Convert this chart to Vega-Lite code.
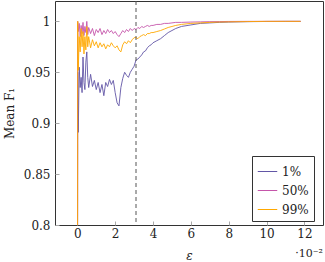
{
  "$schema": "https://vega.github.io/schema/vega-lite/v6.json",
  "width": 268,
  "height": 224,
  "autosize": "none",
  "padding": {"left": 55, "top": 1, "right": 2, "bottom": 37},
  "config": {
    "font": "DejaVu Serif",
    "view": {"stroke": "#333", "strokeWidth": 1},
    "axis": {"domain": false, "grid": false, "labelFont": "DejaVu Serif", "titleFont": "DejaVu Serif", "labelFontSize": 12, "titleFontSize": 12, "titleFontWeight": "normal", "labelColor": "#222", "titleColor": "#222", "tickColor": "#aaa", "tickSize": -4, "labelOverlap": false}
  },
  "title": {"text": "·10⁻²", "orient": "bottom", "anchor": "end", "fontSize": 11, "fontWeight": "normal", "font": "DejaVu Serif", "color": "#222", "offset": -13},
  "layer": [
    {
      "data": {"values": [
        {"x": 0, "1%": 0.5, "50%": 0.5, "99%": 0.5},
        {"x": 0.02, "1%": 0.95, "50%": 1.0, "99%": 1.0},
        {"x": 0.05, "1%": 0.891, "50%": 0.99, "99%": 0.952},
        {"x": 0.1, "1%": 0.955, "50%": 0.998, "99%": 0.985},
        {"x": 0.15, "1%": 0.935, "50%": 0.985, "99%": 0.97},
        {"x": 0.2, "1%": 0.945, "50%": 0.996, "99%": 0.993},
        {"x": 0.25, "1%": 0.93, "50%": 0.988, "99%": 0.975},
        {"x": 0.3, "1%": 0.965, "50%": 0.999, "99%": 0.99},
        {"x": 0.35, "1%": 0.94, "50%": 0.986, "99%": 0.968},
        {"x": 0.4, "1%": 0.933, "50%": 0.995, "99%": 0.985},
        {"x": 0.45, "1%": 0.96, "50%": 0.989, "99%": 0.972},
        {"x": 0.5, "1%": 0.97, "50%": 1.0, "99%": 0.995},
        {"x": 0.55, "1%": 0.945, "50%": 0.987, "99%": 0.975},
        {"x": 0.6, "1%": 0.935, "50%": 0.994, "99%": 0.985},
        {"x": 0.7, "1%": 0.948, "50%": 0.988, "99%": 0.974},
        {"x": 0.8, "1%": 0.936, "50%": 0.993, "99%": 0.982},
        {"x": 0.9, "1%": 0.942, "50%": 0.986, "99%": 0.976},
        {"x": 1.0, "1%": 0.933, "50%": 0.992, "99%": 0.98},
        {"x": 1.1, "1%": 0.94, "50%": 0.989, "99%": 0.974},
        {"x": 1.2, "1%": 0.93, "50%": 0.993, "99%": 0.979},
        {"x": 1.3, "1%": 0.938, "50%": 0.987, "99%": 0.975},
        {"x": 1.4, "1%": 0.927, "50%": 0.991, "99%": 0.978},
        {"x": 1.5, "1%": 0.94, "50%": 0.988, "99%": 0.973},
        {"x": 1.6, "1%": 0.936, "50%": 0.992, "99%": 0.977},
        {"x": 1.7, "1%": 0.943, "50%": 0.989, "99%": 0.975},
        {"x": 1.8, "1%": 0.938, "50%": 0.991, "99%": 0.979},
        {"x": 1.9, "1%": 0.942, "50%": 0.988, "99%": 0.976},
        {"x": 2.0, "1%": 0.93, "50%": 0.99, "99%": 0.974},
        {"x": 2.1, "1%": 0.92, "50%": 0.987, "99%": 0.976},
        {"x": 2.2, "1%": 0.917, "50%": 0.985, "99%": 0.972},
        {"x": 2.3, "1%": 0.935, "50%": 0.988, "99%": 0.97},
        {"x": 2.4, "1%": 0.944, "50%": 0.991, "99%": 0.977},
        {"x": 2.5, "1%": 0.95, "50%": 0.989, "99%": 0.98},
        {"x": 2.6, "1%": 0.947, "50%": 0.992, "99%": 0.978},
        {"x": 2.7, "1%": 0.945, "50%": 0.99, "99%": 0.981},
        {"x": 2.8, "1%": 0.95, "50%": 0.993, "99%": 0.979},
        {"x": 2.9, "1%": 0.953, "50%": 0.991, "99%": 0.982},
        {"x": 3.0, "1%": 0.956, "50%": 0.993, "99%": 0.984},
        {"x": 3.1, "1%": 0.962, "50%": 0.992, "99%": 0.984},
        {"x": 3.2, "1%": 0.963, "50%": 0.994, "99%": 0.983},
        {"x": 3.3, "1%": 0.965, "50%": 0.993, "99%": 0.985},
        {"x": 3.4, "1%": 0.967, "50%": 0.995, "99%": 0.986},
        {"x": 3.5, "1%": 0.97, "50%": 0.994, "99%": 0.987},
        {"x": 3.6, "1%": 0.971, "50%": 0.995, "99%": 0.986},
        {"x": 3.7, "1%": 0.974, "50%": 0.996, "99%": 0.988},
        {"x": 3.8, "1%": 0.976, "50%": 0.995, "99%": 0.988},
        {"x": 3.9, "1%": 0.977, "50%": 0.996, "99%": 0.989},
        {"x": 4.0, "1%": 0.979, "50%": 0.996, "99%": 0.989},
        {"x": 4.2, "1%": 0.981, "50%": 0.997, "99%": 0.99},
        {"x": 4.4, "1%": 0.983, "50%": 0.997, "99%": 0.991},
        {"x": 4.6, "1%": 0.986, "50%": 0.998, "99%": 0.9925},
        {"x": 4.8, "1%": 0.989, "50%": 0.998, "99%": 0.994},
        {"x": 5.0, "1%": 0.991, "50%": 0.9985, "99%": 0.995},
        {"x": 5.2, "1%": 0.993, "50%": 0.999, "99%": 0.996},
        {"x": 5.5, "1%": 0.995, "50%": 0.999, "99%": 0.997},
        {"x": 6.0, "1%": 0.9965, "50%": 0.9993, "99%": 0.998},
        {"x": 6.5, "1%": 0.998, "50%": 0.9995, "99%": 0.9985},
        {"x": 7.0, "1%": 0.9985, "50%": 0.9997, "99%": 0.999},
        {"x": 7.5, "1%": 0.999, "50%": 0.9998, "99%": 0.9993},
        {"x": 8.0, "1%": 0.9993, "50%": 0.9999, "99%": 0.9995},
        {"x": 9.0, "1%": 0.9997, "50%": 1.0, "99%": 0.9998},
        {"x": 10.0, "1%": 0.9999, "50%": 1.0, "99%": 1.0},
        {"x": 11.0, "1%": 1.0, "50%": 1.0, "99%": 1.0},
        {"x": 11.8, "1%": 1.0, "50%": 1.0, "99%": 1.0}
      ]},
      "transform": [{"fold": ["1%", "50%", "99%"], "as": ["series", "value"]}],
      "mark": {"type": "line", "clip": true, "strokeWidth": 0.9},
      "encoding": {
        "x": {"field": "x", "type": "quantitative",
              "scale": {"domain": [-1.18, 12.98], "nice": false, "zero": false},
              "axis": {"values": [0, 2, 4, 6, 8, 10, 12], "format": "d", "title": "ε", "titleFontStyle": "italic", "labelPadding": 7, "titleY": 30, "titleBaseline": "middle"}},
        "y": {"field": "value", "type": "quantitative",
              "scale": {"domain": [0.8, 1.02], "nice": false, "zero": false},
              "axis": {"values": [0.8, 0.85, 0.9, 0.95, 1], "format": "~g", "title": "Mean F₁", "labelPadding": 9, "titleX": -46, "titleBaseline": "middle"}},
        "color": {"field": "series", "type": "nominal",
                  "scale": {"domain": ["1%", "50%", "99%"], "range": ["#6256a6", "#c555aa", "#ffa800"]},
                  "legend": {"title": null, "orient": "none", "legendX": 197, "legendY": 155, "strokeColor": "#333", "padding": 5, "symbolType": "stroke", "symbolStrokeWidth": 1, "symbolSize": 380, "labelFontSize": 12, "labelFont": "DejaVu Serif", "labelColor": "#222", "rowPadding": 2, "labelOffset": 4, "labelExpr": "datum.label == '1%' ? '\u20071%' : datum.label"}}
      }
    },
    {
      "data": {"values": [{"x": 3.1}]},
      "mark": {"type": "rule", "color": "#555", "strokeDash": [4, 3], "strokeWidth": 1},
      "encoding": {"x": {"field": "x", "type": "quantitative"}}
    }
  ]
}
